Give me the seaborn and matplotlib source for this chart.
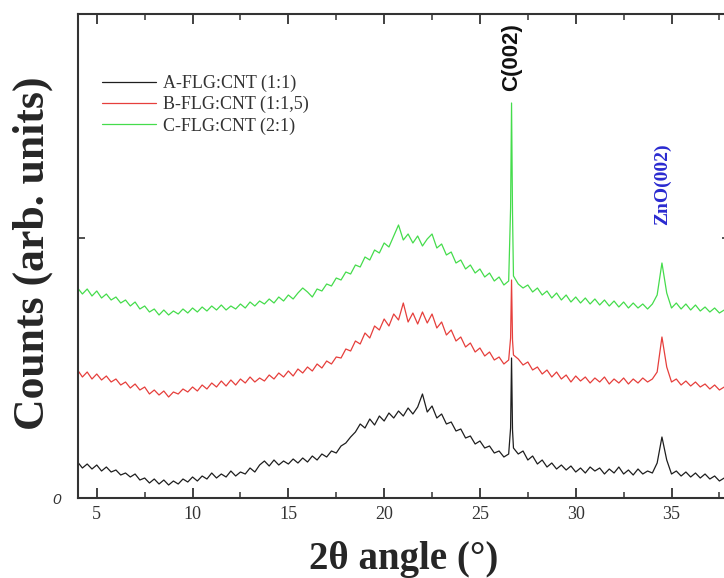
import numpy as np
import pandas as pd
import seaborn as sns
import matplotlib.pyplot as plt
from matplotlib.ticker import MultipleLocator

# 2-theta sampling: 0.25 deg steps, with extra points across the sharp C(002) peak
two_theta = np.concatenate([np.arange(4.0, 26.51, 0.25),
                            [26.60, 26.65, 26.70],
                            np.arange(26.75, 37.76, 0.25)])

# counts (arbitrary units)
counts_a = [36, 30, 34, 29, 33, 27, 31, 26, 28, 23, 25, 21, 24, 18, 20, 15, 19, 14, 18, 13,
            17, 14, 19, 16, 21, 17, 22, 19, 25, 20, 24, 21, 27, 22, 26, 24, 30, 26, 33, 37,
            32, 38, 33, 37, 34, 39, 35, 40, 36, 42, 38, 44, 41, 47, 45, 52, 55, 61, 66, 74,
            70, 79, 73, 82, 77, 85, 80, 87, 82, 90, 84, 91, 104, 86, 92, 80, 84, 74, 76, 67,
            69, 60, 62, 54, 57, 50, 52, 45, 47, 41, 44,
            70, 140, 68,
            50, 44, 47, 38, 42, 34, 38, 31, 35, 29, 33, 28, 32, 26, 30, 25, 31, 27, 30, 24,
            29, 25, 31, 24, 28, 23, 29, 24, 27, 25, 35, 61, 38, 24, 27, 22, 26, 21, 25, 20,
            24, 19, 22, 17, 20]

counts_b = [128, 121, 126, 119, 124, 118, 122, 116, 119, 113, 116, 110, 114, 108, 111, 104, 108, 103, 107, 101,
            106, 104, 109, 106, 111, 107, 113, 109, 115, 111, 117, 112, 118, 113, 119, 115, 121, 116, 120, 117,
            123, 119, 125, 121, 127, 122, 129, 125, 131, 127, 134, 130, 137, 134, 141, 140, 149, 147, 157, 154,
            165, 160, 172, 168, 179, 172, 184, 178, 195, 176, 185, 174, 186, 175, 184, 170, 176, 163, 168, 157,
            161, 151, 155, 146, 150, 142, 146, 138, 141, 134, 138,
            160, 218, 158,
            143, 139, 133, 136, 128, 131, 124, 128, 121, 126, 119, 123, 116, 122, 117, 121, 115, 120, 116, 121,
            114, 119, 115, 120, 114, 119, 115, 120, 116, 119, 126, 161, 131, 116, 119, 113, 117, 112, 116, 111,
            114, 109, 113, 108, 111]

counts_c = [210, 204, 209, 202, 207, 200, 204, 198, 201, 195, 198, 192, 196, 189, 192, 186, 189, 183, 188, 183,
            187, 184, 189, 185, 190, 186, 191, 187, 192, 188, 193, 188, 192, 189, 194, 190, 196, 192, 197, 194,
            199, 195, 201, 197, 203, 199, 205, 210, 206, 201, 209, 207, 214, 212, 220, 218, 226, 224, 233, 231,
            241, 238, 248, 245, 255, 251, 262, 273, 258, 264, 255, 262, 252, 259, 264, 250, 254, 243, 246, 235,
            238, 229, 233, 225, 229, 221, 225, 217, 221, 213, 217,
            290, 395, 285,
            222, 214, 210, 213, 206, 210, 203, 207, 200, 205, 198, 203, 196, 201, 195, 200, 194, 199, 193, 198,
            192, 197, 191, 196, 190, 195, 190, 194, 189, 194, 203, 235, 205, 190, 195, 189, 194, 188, 193, 187,
            191, 186, 190, 185, 188]

samples = ["A-FLG:CNT (1:1)", "B-FLG:CNT (1:1,5)", "C-FLG:CNT (2:1)"]
colors = ["#1e1e1e", "#e63f3c", "#45dc4c"]

frames = []
for name, vals in zip(samples, [counts_a, counts_b, counts_c]):
    frames.append(pd.DataFrame({"two_theta": two_theta, "counts": vals, "sample": name}))
df = pd.concat(frames, ignore_index=True)

sns.set_style("ticks")
plt.rcParams["font.family"] = ["Liberation Serif", "DejaVu Serif"]

fig = plt.figure(figsize=(7.24, 5.78), dpi=100)
ax = fig.add_axes([0.1072, 0.1384, 0.8997, 0.8374])

sns.lineplot(data=df, x="two_theta", y="counts", hue="sample", palette=colors,
             estimator=None, sort=False, lw=0.9, ax=ax)

ax.set_xlim(4, 38)
ax.set_ylim(0, 484)
ax.xaxis.set_major_locator(MultipleLocator(5))
ax.xaxis.set_minor_locator(MultipleLocator(2.5))
ax.set_yticks([0, 260])
ax.set_yticklabels(["0", ""])
for lab in ax.get_yticklabels():
    lab.set_fontfamily("Liberation Sans")
    lab.set_fontstyle("italic")
    lab.set_fontsize(11)

ax.tick_params(axis="x", which="major", direction="in", length=7, width=1.3,
               top=True, labelsize=13, pad=6, colors="#333333")
ax.tick_params(axis="x", which="minor", direction="in", length=4, width=1.1,
               top=True, colors="#333333")
ax.tick_params(axis="y", direction="in", length=5, width=1.2, right=True,
               pad=12, colors="#333333")

for side in ["left", "bottom", "top"]:
    ax.spines[side].set_color("#333333")
    ax.spines[side].set_linewidth(1.5)
ax.spines["right"].set_visible(False)

ax.set_xlabel("2θ angle (°)", fontsize=28, fontweight="bold", labelpad=13)
ax.set_ylabel("Counts (arb. units)", fontsize=31.5, fontweight="bold")
ax.yaxis.set_label_coords(-0.038, 0.505)

ax.text(26.65, 475, "C(002)", rotation=90, ha="center", va="top", fontsize=16,
        fontfamily="Liberation Sans", fontweight="bold", color="#111111")
ax.text(34.55, 355, "ZnO(002)", rotation=90, ha="center", va="top", fontsize=14,
        fontweight="bold", color="#2a2ad0")

handles, labels = ax.get_legend_handles_labels()
ax.legend(handles, labels, loc="upper left", bbox_to_anchor=(0.012, 0.908), frameon=False,
          fontsize=13, handlelength=3.0, handletextpad=0.4, labelspacing=0.22,
          labelcolor="#333333")

fig.savefig("out.png", dpi=100)
